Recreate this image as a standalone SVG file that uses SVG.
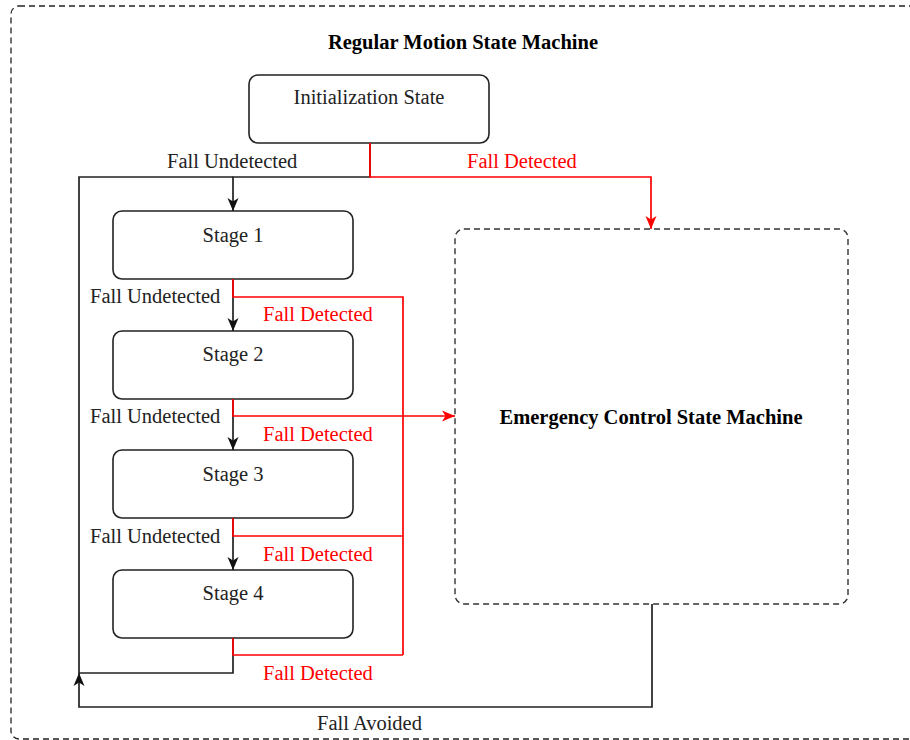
<svg xmlns="http://www.w3.org/2000/svg" width="910" height="740" viewBox="0 0 910 740">
  <style>
    text { font-family: "Liberation Serif", "Times New Roman", serif; font-size: 20.5px; }
    .title { font-weight: bold; text-anchor: middle; fill: #000; }
    .node-label { text-anchor: middle; fill: #222; }
    .box { fill: #fff; stroke: #222; stroke-width: 1.6; }
    .frame { fill: none; stroke: #222; stroke-width: 1.3; stroke-dasharray: 6 4; }
    .sub { fill: #fff; stroke: #333; stroke-width: 1.4; stroke-dasharray: 6 4; }
    .edge { fill: none; stroke: #222; stroke-width: 1.7; }
    .edge-red { fill: none; stroke: #ff0000; stroke-width: 1.7; }
    .lbl { fill: #222; }
    .lbl-red { fill: #ff0000; }
  </style>
  <defs>
    <marker id="arrow" markerUnits="userSpaceOnUse" markerWidth="14" markerHeight="14" viewBox="0 0 14 14" refX="13" refY="7" orient="auto">
      <path d="M0,1.5 L13,7 L0,12.5 L3.5,7 Z" fill="#111"/>
    </marker>
    <marker id="arrow-red" markerUnits="userSpaceOnUse" markerWidth="14" markerHeight="14" viewBox="0 0 14 14" refX="13" refY="7" orient="auto">
      <path d="M0,1.5 L13,7 L0,12.5 L3.5,7 Z" fill="#ff0000"/>
    </marker>
  </defs>

  <rect width="910" height="740" fill="#fff"/>

  <!-- outer container -->
  <g id="regular-motion">
    <rect class="frame" x="11" y="6" width="920" height="733" rx="8"/>
    <text class="title" x="463" y="49">Regular Motion State Machine</text>
  </g>

  <g id="init">
    <rect class="box" x="249" y="75" width="240" height="68" rx="9"/>
    <text class="node-label" x="369" y="104">Initialization State</text>
  </g>

  <g id="stage1">
    <rect class="box" x="113" y="211" width="240" height="68" rx="9"/>
    <text class="node-label" x="233" y="242">Stage 1</text>
  </g>
  <g id="stage2">
    <rect class="box" x="113" y="331" width="240" height="68" rx="9"/>
    <text class="node-label" x="233" y="361">Stage 2</text>
  </g>
  <g id="stage3">
    <rect class="box" x="113" y="450" width="240" height="68" rx="9"/>
    <text class="node-label" x="233" y="481">Stage 3</text>
  </g>
  <g id="stage4">
    <rect class="box" x="113" y="570" width="240" height="68" rx="9"/>
    <text class="node-label" x="233" y="600">Stage 4</text>
  </g>

  <g id="emergency">
    <rect class="sub" x="455" y="229" width="393" height="375" rx="9"/>
    <text class="title" x="651" y="424">Emergency Control State Machine</text>
  </g>

  <g id="connectors">
    <!-- normal progression -->
    <path class="edge" d="M370,143 V177 H233 V211" marker-end="url(#arrow)"/>
    <path class="edge" d="M233,279 V331" marker-end="url(#arrow)"/>
    <path class="edge" d="M233,399 V450" marker-end="url(#arrow)"/>
    <path class="edge" d="M233,518 V570" marker-end="url(#arrow)"/>
    <path class="edge" d="M233,638 V673 H79 V177 H233"/>
    <!-- recovery back to the start -->
    <path class="edge" d="M652,604 V707 H79 V673" marker-end="url(#arrow)"/>

    <!-- fall detection routes -->
    <path class="edge-red" d="M370,143 V177 H651 V229" marker-end="url(#arrow-red)"/>
    <path class="edge-red" d="M233,279 V297 H403 V655"/>
    <path class="edge-red" d="M233,399 V416 H455" marker-end="url(#arrow-red)"/>
    <path class="edge-red" d="M233,518 V536 H403"/>
    <path class="edge-red" d="M233,638 V655 H403"/>

    <!-- labels -->
    <text class="lbl" x="167" y="168">Fall Undetected</text>
    <text class="lbl-red" x="467" y="168">Fall Detected</text>
    <text class="lbl" x="90" y="303">Fall Undetected</text>
    <text class="lbl-red" x="263" y="321">Fall Detected</text>
    <text class="lbl" x="90" y="423">Fall Undetected</text>
    <text class="lbl-red" x="263" y="441">Fall Detected</text>
    <text class="lbl" x="90" y="543">Fall Undetected</text>
    <text class="lbl-red" x="263" y="561">Fall Detected</text>
    <text class="lbl-red" x="263" y="680">Fall Detected</text>
    <text class="lbl" x="317" y="730">Fall Avoided</text>
  </g>
</svg>
